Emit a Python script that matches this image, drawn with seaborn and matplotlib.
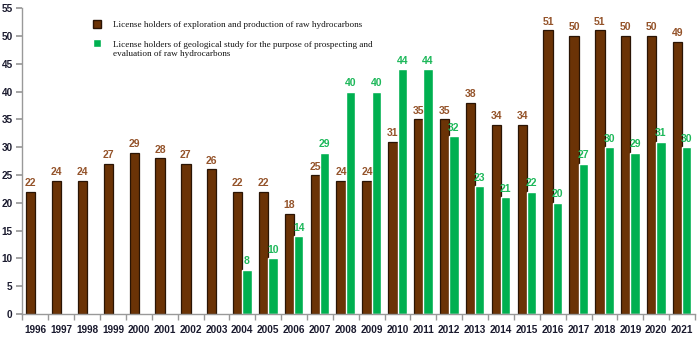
import numpy as np
import pandas as pd
import matplotlib
matplotlib.use('Agg')
import matplotlib.pyplot as plt
import seaborn as sns

years = [str(y) for y in range(1996, 2022)]
exploration = [22, 24, 24, 27, 29, 28, 27, 26, 22, 22, 18, 25, 24, 24,
               31, 35, 35, 38, 34, 34, 51, 50, 51, 50, 50, 49]
geological = [np.nan] * 8 + [8, 10, 14, 29, 40, 40, 44, 44, 32, 23, 21,
                             22, 20, 27, 30, 29, 31, 30]

lab_expl = 'License holders of exploration and production of raw hydrocarbons'
lab_geo = ('License holders of geological study for the purpose of prospecting and\n'
           'evaluation of raw hydrocarbons')

df = pd.DataFrame({
    'year': years * 2,
    'value': exploration + geological,
    'group': [lab_expl] * len(years) + [lab_geo] * len(years),
})

sns.set_theme(style='white')
plt.rcParams['font.family'] = ['Liberation Sans', 'DejaVu Sans']

brown = '#6B3306'
green = '#00B050'

fig, ax = plt.subplots(figsize=(7, 3.54), dpi=100)
fig.subplots_adjust(left=0.032, right=0.993, bottom=0.113, top=0.977)

sns.barplot(data=df, x='year', y='value', hue='group', order=years,
            hue_order=[lab_expl, lab_geo], palette=[brown, green],
            saturation=1, width=0.72, gap=0, ax=ax, legend=True)


def label_bars(container, color):
    for bar in container:
        if bar is None or np.isnan(bar.get_height()):
            continue
        ax.annotate(str(int(round(bar.get_height()))),
                    (bar.get_x() + bar.get_width() / 2, bar.get_height()),
                    xytext=(0, 2.5), textcoords='offset points',
                    ha='center', va='bottom', color=color,
                    fontsize=7.5, fontweight='bold')


for bar in ax.containers[0]:
    if bar is not None:
        bar.set_edgecolor('#2A1404')
        bar.set_linewidth(0.9)

label_bars(ax.containers[0], '#94532A')
label_bars(ax.containers[1], '#1DB85A')

ax.set_ylim(0, 55)
ax.set_yticks(range(0, 56, 5))
ax.set_xlim(-0.5, len(years) - 0.5)
ax.set_xlabel('')
ax.set_ylabel('')

ax.set_xticks(np.arange(-0.5, len(years), 1), minor=True)
ax.tick_params(axis='x', which='major', length=0, labelsize=7.2, pad=8)
ax.tick_params(axis='x', which='minor', length=4, color='#999999',
               direction='out', bottom=True)
ax.tick_params(axis='y', length=4, color='#999999', direction='out',
               labelsize=7.2, left=True, pad=3)
for lbl in ax.get_xticklabels() + ax.get_yticklabels():
    lbl.set_fontweight('bold')
    lbl.set_color('#1A1A2E')

sns.despine(ax=ax)
for side in ['left', 'bottom']:
    ax.spines[side].set_color('#999999')
    ax.spines[side].set_linewidth(1)

leg = ax.legend(loc='upper left', bbox_to_anchor=(0.092, 0.987), frameon=False,
                prop={'family': 'Liberation Serif', 'size': 6.6},
                handlelength=0.9, handleheight=0.9, handletextpad=1.3,
                labelspacing=1.3)
leg.legend_handles[0].set_edgecolor('#2A1404')
# marker of the wrapped entry sits next to its first line
leg.legend_handles[1].set_y(leg.legend_handles[1].get_y() + 5)
for t in leg.get_texts():
    t.set_color('#111111')

fig.savefig('out.png', dpi=100)
